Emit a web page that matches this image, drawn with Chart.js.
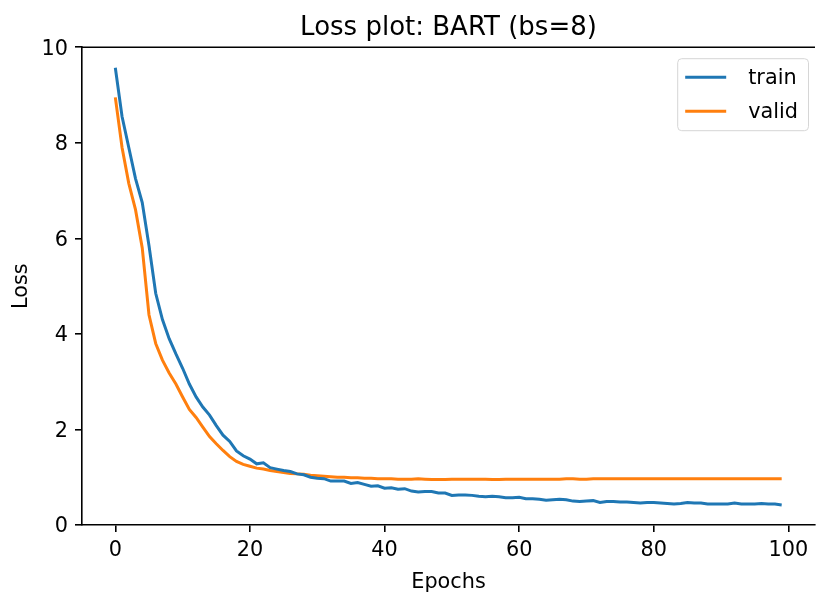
<!DOCTYPE html>
<html lang="en">
<head>
  <meta charset="UTF-8" />
  <title>Loss plot: BART (bs=8)</title>
  <script src="https://cdn.jsdelivr.net/npm/chart.js"></script>
  <style>
    html, body { margin: 0; padding: 0; background: #fff; }
    #wrap { width: 816px; height: 593px; }
  </style>
</head>
<body>
  <div id="wrap">
    <canvas id="lossChart" width="816" height="593"></canvas>
  </div>

  <script>
    // epochs 0..99
    const epochs = Array.from({ length: 100 }, (_, i) => i);

    const trainLoss = [
      9.57, 8.55, 7.90, 7.25, 6.75, 5.85, 4.85, 4.30, 3.90, 3.58,
      3.28, 2.95, 2.68, 2.47, 2.30, 2.08, 1.88, 1.75, 1.55, 1.45,
      1.38, 1.28, 1.30, 1.20, 1.17, 1.14, 1.12, 1.07, 1.05, 1.00,
      0.98, 0.97, 0.92, 0.92, 0.92, 0.87, 0.89, 0.85, 0.81, 0.82,
      0.77, 0.78, 0.75, 0.76, 0.71, 0.69, 0.70, 0.70, 0.67, 0.67,
      0.62, 0.63, 0.63, 0.62, 0.60, 0.59, 0.60, 0.59, 0.57, 0.57,
      0.58, 0.55, 0.55, 0.54, 0.52, 0.53, 0.54, 0.53, 0.50, 0.49,
      0.50, 0.51, 0.47, 0.49, 0.49, 0.48, 0.48, 0.47, 0.46, 0.47,
      0.47, 0.46, 0.45, 0.44, 0.45, 0.47, 0.46, 0.46, 0.44, 0.44,
      0.44, 0.44, 0.46, 0.44, 0.44, 0.44, 0.45, 0.44, 0.44, 0.42
    ];

    const validLoss = [
      8.95, 7.90, 7.15, 6.60, 5.80, 4.40, 3.80, 3.45, 3.18, 2.95,
      2.68, 2.42, 2.25, 2.05, 1.85, 1.70, 1.56, 1.43, 1.33, 1.27,
      1.23, 1.19, 1.17, 1.14, 1.12, 1.10, 1.08, 1.07, 1.06, 1.04,
      1.03, 1.02, 1.01, 1.00, 1.00, 0.99, 0.99, 0.98, 0.98, 0.97,
      0.97, 0.97, 0.96, 0.96, 0.96, 0.97, 0.96, 0.95, 0.95, 0.95,
      0.96, 0.96, 0.96, 0.96, 0.96, 0.96, 0.95, 0.95, 0.96, 0.96,
      0.96, 0.96, 0.96, 0.96, 0.96, 0.96, 0.96, 0.97, 0.97, 0.96,
      0.96, 0.97, 0.97, 0.97, 0.97, 0.97, 0.97, 0.97, 0.97, 0.97,
      0.97, 0.97, 0.97, 0.97, 0.97, 0.97, 0.97, 0.97, 0.97, 0.97,
      0.97, 0.97, 0.97, 0.97, 0.97, 0.97, 0.97, 0.97, 0.97, 0.97
    ];

    const xTicks = [0, 20, 40, 60, 80, 100];

    const FONT = 'DejaVu Sans';

    // top spine + boxed legend like matplotlib
    const extras = {
      id: 'extras',
      afterDraw(chart) {
        const { ctx, chartArea } = chart;
        ctx.save();
        ctx.strokeStyle = '#000';
        ctx.lineWidth = 1.6;
        ctx.beginPath();
        ctx.moveTo(chartArea.left - 0.8, chartArea.top);
        ctx.lineTo(chartArea.right, chartArea.top);
        ctx.stroke();

        // legend
        ctx.font = '20.8px "' + FONT + '"';
        const items = chart.data.datasets;
        const textW = Math.max(...items.map(d => ctx.measureText(d.label).width));
        const w = 71 + textW + 10;
        const h = 72;
        const x = chartArea.right - 7 - w;
        const y = chartArea.top + 11;
        ctx.beginPath();
        ctx.roundRect(x + 0.5, y + 0.5, w, h, 4);
        ctx.fillStyle = 'rgba(255,255,255,0.8)';
        ctx.fill();
        ctx.strokeStyle = '#d6d6d6';
        ctx.lineWidth = 1;
        ctx.stroke();
        items.forEach((d, i) => {
          const cy = y + 19 + i * 34;
          ctx.strokeStyle = d.borderColor;
          ctx.lineWidth = 3;
          ctx.beginPath();
          ctx.moveTo(x + 8, cy);
          ctx.lineTo(x + 49, cy);
          ctx.stroke();
          ctx.fillStyle = '#000';
          ctx.textBaseline = 'middle';
          ctx.textAlign = 'left';
          ctx.fillText(d.label, x + 71, cy + 1);
        });
        ctx.restore();
      }
    };

    new Chart(document.getElementById('lossChart'), {
      type: 'line',
      data: {
        labels: epochs,
        datasets: [
          {
            label: 'train',
            data: trainLoss,
            borderColor: '#1f77b4',
            backgroundColor: '#1f77b4',
            borderWidth: 3,
            pointRadius: 0,
            tension: 0,
            fill: false
          },
          {
            label: 'valid',
            data: validLoss,
            borderColor: '#ff7f0e',
            backgroundColor: '#ff7f0e',
            borderWidth: 3,
            pointRadius: 0,
            tension: 0,
            fill: false
          }
        ]
      },
      options: {
        responsive: false,
        animation: false,
        devicePixelRatio: 1,
        layout: { padding: { left: 0, right: 1, top: 0, bottom: 0 } },
        plugins: {
          legend: { display: false },
          tooltip: { enabled: false },
          title: {
            display: true,
            text: 'Loss plot: BART (bs=8)',
            fullSize: false,
            color: '#000',
            font: { family: FONT, size: 26, weight: 'normal' },
            padding: { top: 13, bottom: 3 }
          }
        },
        scales: {
          x: {
            type: 'linear',
            min: -4.95,
            max: 103.95,
            afterBuildTicks: s => { s.ticks = xTicks.map(v => ({ value: v })); },
            afterFit: s => { s.height = 68; },
            grid: { display: true, drawOnChartArea: false, color: '#000', lineWidth: 1.6, tickLength: 7 },
            border: { display: true, color: '#000', width: 1.6 },
            ticks: {
              color: '#000',
              padding: 6,
              maxRotation: 0,
              autoSkip: false,
              font: { family: FONT, size: 20.8 }
            },
            title: {
              display: true,
              text: 'Epochs',
              color: '#000',
              font: { family: FONT, size: 20.8 },
              padding: { top: 0, bottom: -2 }
            }
          },
          y: {
            min: 0,
            max: 10,
            afterFit: s => { s.width = 82; },
            grid: { display: true, drawOnChartArea: false, color: '#000', lineWidth: 1.6, tickLength: 7 },
            border: { display: true, color: '#000', width: 1.6 },
            ticks: {
              color: '#000',
              stepSize: 2,
              padding: 7,
              labelOffset: 2,
              font: { family: FONT, size: 20.8 }
            },
            title: {
              display: true,
              text: 'Loss',
              color: '#000',
              font: { family: FONT, size: 20.8 },
              padding: { top: 9, bottom: 0 }
            }
          }
        }
      },
      plugins: [extras]
    });
  </script>
</body>
</html>
